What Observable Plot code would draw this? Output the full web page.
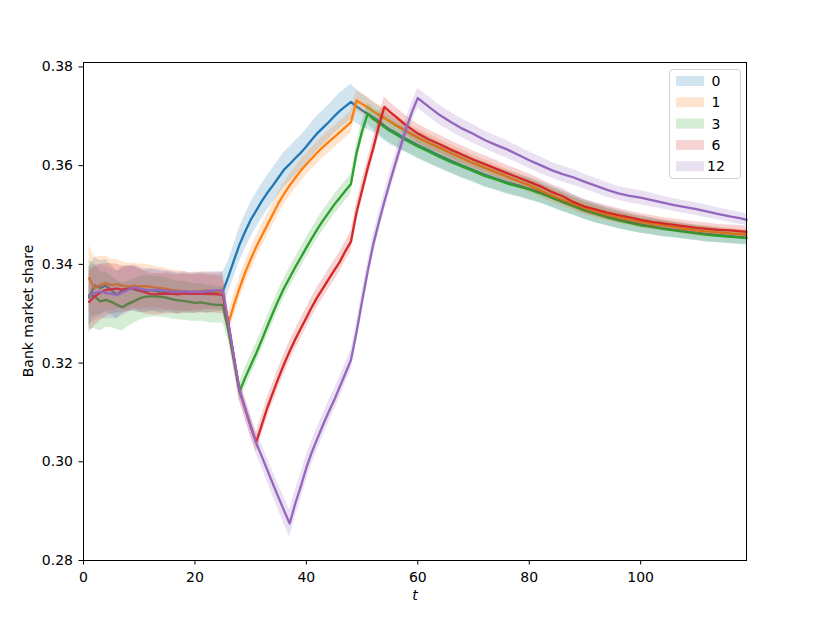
<!DOCTYPE html>
<html><head><meta charset="utf-8">
<script src="https://cdn.jsdelivr.net/npm/d3@7"></script>
<script src="https://cdn.jsdelivr.net/npm/@observablehq/plot@0.6"></script>
<style>body{margin:0;background:#fff}#chart{position:relative;width:830px;height:623px}</style>
</head><body><div id="chart"></div>
<script>
// time grid
const t = [1,2,3,4,5,6,7,8,9,10,11,12,13,14,15,16,17,18,19,20,21,22,23,24,25,
26,27,28,29,30,31,32,33,34,35,36,37,38,39,40,41,42,43,44,45,46,47,48,
49,50,51,52,53,54,55,56,57,58,59,60,
62,64,66,68,70,72,74,76,78,80,82,84,86,88,90,92,94,96,98,100,102,104,106,108,110,112,114,116,118,119];

const labels = ["0","1","3","6","12"];
const colors = ["#1f77b4","#ff7f0e","#2ca02c","#d62728","#9467bd"];
const xTicks = [0,20,40,60,80,100];
const yTicks = [0.28,0.30,0.32,0.34,0.36,0.38];

const mean0 = [0.3333,0.3357,0.3352,0.3357,0.3348,0.3338,0.3348,0.3352,0.3350,0.3346,0.3345,0.3348,0.3346,0.3343,0.3345,0.3343,0.3341,0.3342,0.3340,0.3341,0.3343,0.3342,0.3342,0.3343,0.3345,
0.3375,0.3408,0.3440,0.3466,0.3490,0.3509,0.3528,0.3545,0.3560,0.3576,0.3592,0.3603,0.3615,0.3626,0.3639,0.3653,0.3666,0.3677,0.3688,0.3700,0.3711,0.3720,0.3729,
0.3720,0.3712,0.3705,0.3698,0.3690,0.3681,0.3673,0.3667,0.3660,0.3654,0.3648,0.3642,
0.3631,0.3620,0.3610,0.3600,0.3591,0.3582,0.3574,0.3566,0.3560,0.3553,0.3546,0.3537,0.3528,0.3520,0.3511,0.3504,0.3497,0.3491,0.3486,0.3481,0.3477,0.3473,0.3470,0.3467,0.3464,0.3461,0.3459,0.3457,0.3455,0.3454];
const mean1 = [0.3372,0.3352,0.3358,0.3362,0.3358,0.3360,0.3357,0.3355,0.3357,0.3355,0.3356,0.3355,0.3353,0.3352,0.3350,0.3348,0.3347,0.3345,0.3344,0.3345,0.3346,0.3347,0.3346,0.3345,0.3344,
0.3280,0.3318,0.3352,0.3383,0.3410,0.3435,0.3458,0.3480,0.3502,0.3524,0.3543,0.3560,0.3575,0.3590,0.3603,0.3615,0.3627,0.3638,0.3648,0.3658,0.3668,0.3678,0.3688,0.3732,
0.3725,0.3718,0.3710,0.3703,0.3696,0.3689,0.3682,0.3676,0.3670,0.3663,0.3657,
0.3646,0.3636,0.3625,0.3615,0.3605,0.3596,0.3587,0.3578,0.3569,0.3560,0.3550,0.3540,0.3531,0.3522,0.3513,0.3507,0.3501,0.3495,0.3490,0.3486,0.3482,0.3479,0.3476,0.3472,0.3469,0.3467,0.3465,0.3463,0.3461,0.3460];
const mean3 = [0.3338,0.3335,0.3325,0.3328,0.3324,0.3318,0.3313,0.3320,0.3325,0.3331,0.3334,0.3335,0.3335,0.3334,0.3332,0.3329,0.3327,0.3326,0.3324,0.3322,0.3323,0.3321,0.3319,0.3318,0.3318,
0.3265,0.3205,0.3142,0.3170,0.3195,0.3220,0.3247,0.3275,0.3302,0.3328,0.3352,0.3373,0.3394,0.3414,0.3434,0.3453,0.3472,0.3489,0.3505,0.3521,0.3535,0.3549,0.3563,
0.3625,0.3670,0.3705,0.3695,0.3687,0.3678,0.3670,0.3664,0.3657,0.3651,0.3645,0.3639,
0.3628,0.3617,0.3607,0.3598,0.3589,0.3579,0.3572,0.3564,0.3558,0.3552,0.3544,0.3535,0.3526,0.3518,0.3509,0.3502,0.3495,0.3489,0.3484,0.3479,0.3476,0.3472,0.3469,0.3466,0.3463,0.3460,0.3458,0.3456,0.3454,0.3453];
const mean6 = [0.3324,0.3335,0.3343,0.3348,0.3350,0.3351,0.3349,0.3350,0.3352,0.3348,0.3343,0.3340,0.3339,0.3340,0.3341,0.3340,0.3339,0.3341,0.3341,0.3340,0.3341,0.3340,0.3340,0.3339,0.3338,
0.3282,0.3212,0.3144,0.3108,0.3072,0.3040,0.3075,0.3110,0.3140,0.3170,0.3198,0.3224,0.3248,0.3270,0.3292,0.3314,0.3334,0.3352,0.3370,0.3388,0.3405,0.3427,0.3446,
0.3505,0.3550,0.3595,0.3635,0.3680,0.3719,0.3709,0.3700,0.3690,0.3681,0.3673,0.3665,
0.3653,0.3643,0.3632,0.3622,0.3612,0.3603,0.3594,0.3585,0.3576,0.3567,0.3558,0.3547,0.3538,0.3526,0.3517,0.3511,0.3505,0.3500,0.3495,0.3490,0.3486,0.3483,0.3480,0.3477,0.3474,0.3472,0.3470,0.3469,0.3467,0.3466];
const mean12 = [0.3337,0.3342,0.3345,0.3342,0.3340,0.3338,0.3343,0.3348,0.3354,0.3351,0.3349,0.3348,0.3349,0.3348,0.3346,0.3345,0.3344,0.3346,0.3344,0.3345,0.3344,0.3346,0.3347,0.3348,0.3347,
0.3280,0.3213,0.3145,0.3108,0.3072,0.3038,0.3011,0.2983,0.2955,0.2928,0.2901,0.2875,0.2915,0.2950,0.2988,0.3020,0.3048,0.3075,0.3101,0.3125,0.3152,0.3179,0.3206,
0.3262,0.3325,0.3385,0.3440,0.3485,0.3527,0.3567,0.3605,0.3642,0.3678,0.3710,0.3737,
0.3719,0.3702,0.3688,0.3675,0.3664,0.3652,0.3642,0.3633,0.3622,0.3611,0.3601,0.3591,0.3583,0.3576,0.3567,0.3559,0.3551,0.3544,0.3539,0.3535,0.3530,0.3525,0.3520,0.3516,0.3512,0.3507,0.3502,0.3497,0.3493,0.3490];

// half-widths of the shaded bands
const sd0 = [0.0060,0.0058,0.0055,0.0053,0.0050,0.0048,0.0047,0.0046,0.0045,0.0044,0.0043,0.0043,0.0042,0.0042,0.0041,0.0041,0.0041,0.0040,0.0040,0.0040,0.0040,0.0040,0.0039,0.0039,0.0039,
0.0032,0.0033,0.0034,0.0035,0.0035,0.0035,0.0035,0.0035,0.0035,0.0035,0.0035,0.0035,0.0035,0.0035,0.0035,0.0035,0.0035,0.0035,0.0035,0.0035,0.0036,0.0036,0.0036,
0.0034,0.0033,0.0032,0.0031,0.0031,0.0030,0.0030,0.0029,0.0029,0.0028,0.0028,0.0028,
0.0027,0.0027,0.0026,0.0026,0.0025,0.0025,0.0024,0.0024,0.0023,0.0023,0.0022,0.0022,0.0021,0.0021,0.0020,0.0020,0.0019,0.0019,0.0018,0.0018,0.0017,0.0017,0.0016,0.0016,0.0015,0.0015,0.0015,0.0014,0.0014,0.0014];
const sd1 = [0.0065,0.0062,0.0058,0.0055,0.0052,0.0050,0.0048,0.0047,0.0046,0.0045,0.0044,0.0043,0.0042,0.0042,0.0041,0.0041,0.0040,0.0040,0.0039,0.0039,0.0039,0.0038,0.0038,0.0038,0.0038,
0.0022,0.0022,0.0022,0.0022,0.0022,0.0022,0.0022,0.0022,0.0022,0.0022,0.0022,0.0022,0.0022,0.0022,0.0022,0.0022,0.0022,0.0022,0.0022,0.0022,0.0022,0.0022,0.0022,0.0022,
0.0021,0.0021,0.0020,0.0020,0.0020,0.0019,0.0019,0.0019,0.0018,0.0018,0.0018,
0.0018,0.0017,0.0017,0.0017,0.0016,0.0016,0.0016,0.0015,0.0015,0.0015,0.0014,0.0014,0.0014,0.0013,0.0013,0.0013,0.0013,0.0012,0.0012,0.0012,0.0012,0.0011,0.0011,0.0011,0.0011,0.0011,0.0010,0.0010,0.0010,0.0010];
const sd3 = [0.0070,0.0065,0.0060,0.0056,0.0052,0.0050,0.0048,0.0046,0.0045,0.0044,0.0043,0.0042,0.0041,0.0041,0.0040,0.0040,0.0039,0.0039,0.0039,0.0038,0.0038,0.0038,0.0038,0.0037,0.0037,
0.0020,0.0020,0.0020,0.0020,0.0020,0.0020,0.0020,0.0020,0.0020,0.0020,0.0020,0.0020,0.0020,0.0020,0.0020,0.0020,0.0020,0.0020,0.0020,0.0020,0.0020,0.0020,0.0020,
0.0020,0.0020,0.0021,0.0022,0.0023,0.0024,0.0024,0.0024,0.0024,0.0024,0.0023,0.0023,
0.0023,0.0022,0.0022,0.0022,0.0021,0.0021,0.0021,0.0020,0.0020,0.0020,0.0019,0.0019,0.0019,0.0018,0.0018,0.0018,0.0017,0.0017,0.0017,0.0016,0.0016,0.0016,0.0015,0.0015,0.0015,0.0015,0.0014,0.0014,0.0014,0.0014];
const sd6 = [0.0062,0.0060,0.0057,0.0054,0.0051,0.0049,0.0047,0.0046,0.0045,0.0044,0.0043,0.0042,0.0042,0.0041,0.0041,0.0040,0.0040,0.0040,0.0039,0.0039,0.0039,0.0039,0.0038,0.0038,0.0038,
0.0020,0.0020,0.0020,0.0020,0.0020,0.0020,0.0020,0.0020,0.0020,0.0020,0.0020,0.0020,0.0020,0.0020,0.0020,0.0020,0.0020,0.0020,0.0020,0.0020,0.0020,0.0020,0.0020,
0.0020,0.0020,0.0020,0.0020,0.0020,0.0020,0.0019,0.0019,0.0019,0.0019,0.0019,0.0019,
0.0019,0.0018,0.0018,0.0018,0.0017,0.0017,0.0017,0.0016,0.0016,0.0016,0.0015,0.0015,0.0015,0.0014,0.0014,0.0014,0.0014,0.0013,0.0013,0.0013,0.0013,0.0012,0.0012,0.0012,0.0012,0.0012,0.0011,0.0011,0.0011,0.0011];
const sd12 = [0.0058,0.0056,0.0054,0.0052,0.0050,0.0048,0.0047,0.0046,0.0045,0.0044,0.0043,0.0042,0.0042,0.0041,0.0041,0.0040,0.0040,0.0040,0.0039,0.0039,0.0039,0.0038,0.0038,0.0038,0.0038,
0.0020,0.0020,0.0021,0.0021,0.0022,0.0022,0.0023,0.0024,0.0025,0.0026,0.0027,0.0028,0.0027,0.0026,0.0025,0.0024,0.0023,0.0022,0.0022,0.0021,0.0021,0.0020,0.0020,
0.0020,0.0020,0.0020,0.0020,0.0020,0.0020,0.0020,0.0020,0.0020,0.0020,0.0020,0.0020,
0.0020,0.0020,0.0019,0.0019,0.0019,0.0018,0.0018,0.0018,0.0017,0.0017,0.0017,0.0016,0.0016,0.0016,0.0015,0.0015,0.0015,0.0014,0.0014,0.0014,0.0014,0.0013,0.0013,0.0013,0.0013,0.0013,0.0012,0.0012,0.0012,0.0012];

const means = [mean0, mean1, mean3, mean6, mean12];
const sds = [sd0, sd1, sd3, sd6, sd12];

const seriesRows = labels.map((lab, k) => t.map((tt, i) => ({
  t: tt, key: lab, v: means[k][i], lo: means[k][i] - sds[k][i], hi: means[k][i] + sds[k][i]
})));

const marks = [];
seriesRows.forEach((rows, k) => {
  marks.push(Plot.areaY(rows, {x: "t", y1: "lo", y2: "hi", fill: colors[k], fillOpacity: 0.2}));
  marks.push(Plot.line(rows, {x: "t", y: "v", stroke: colors[k], strokeWidth: 2.3}));
});

const chart = Plot.plot({
  width: 830, height: 623,
  marginLeft: 83, marginRight: 84, marginTop: 62, marginBottom: 63,
  style: {fontFamily: "'DejaVu Sans', sans-serif", fontSize: "14px", color: "#000", background: "#fff"},
  x: {domain: [0, 119]},
  y: {domain: [0.28, 0.3809]},
  marks: [
    ...marks,
    Plot.frame({stroke: "#000", strokeWidth: 1}),
    Plot.axisX({ticks: xTicks, tickSize: 4.5, tickPadding: 7, label: null, stroke: "#000"}),
    Plot.axisY({ticks: yTicks, tickFormat: d => d.toFixed(2), tickSize: 4.5, tickPadding: 6, label: null, stroke: "#000"})
  ]
});
document.getElementById("chart").appendChild(chart);

// axis titles and legend
const svg = d3.select(chart);
svg.append("text").attr("transform", "translate(33,311) rotate(-90)")
  .attr("text-anchor", "middle").attr("font-size", 14).attr("fill", "#000")
  .text("Bank market share");
svg.append("text").attr("x", 415).attr("y", 600)
  .attr("text-anchor", "middle").attr("font-size", 14).attr("font-style", "italic").attr("fill", "#000")
  .text("t");

const lg = svg.append("g");
lg.append("rect").attr("x", 669.5).attr("y", 69.5).attr("width", 71).attr("height", 109).attr("rx", 3)
  .attr("fill", "#fff").attr("fill-opacity", 0.8).attr("stroke", "#d0d0d0");
labels.forEach((lab, k) => {
  const cy = 81 + k * 21.3;
  lg.append("rect").attr("x", 676).attr("y", cy - 5).attr("width", 28).attr("height", 10)
    .attr("fill", colors[k]).attr("fill-opacity", 0.2);
  lg.append("text").attr("x", 716).attr("y", cy).attr("dy", "0.36em").attr("font-size", 14).attr("fill", "#000").text(lab);
});
</script>
</body></html>
